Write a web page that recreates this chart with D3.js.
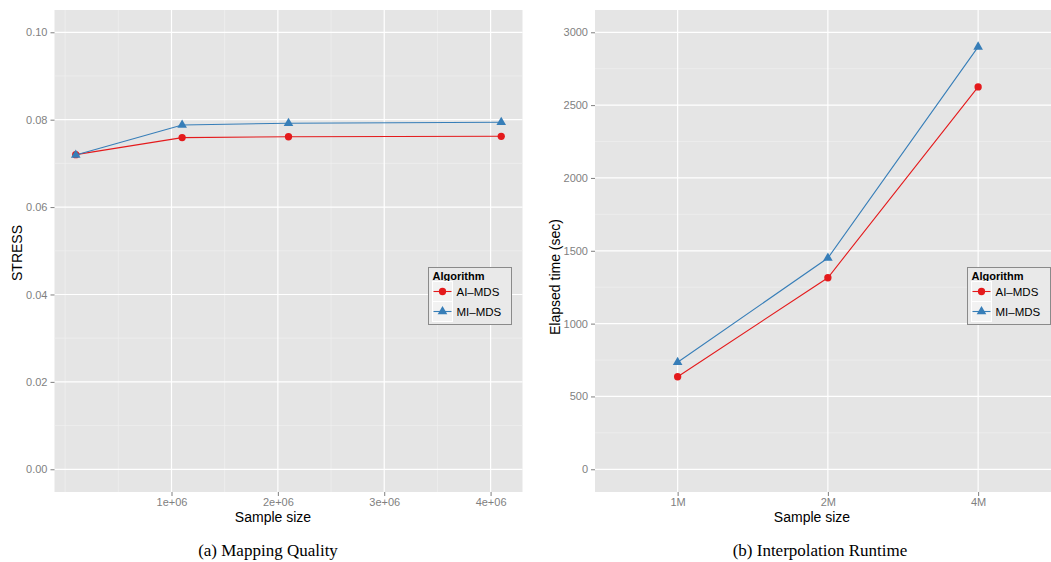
<!doctype html>
<html>
<head>
<style>
  body { margin: 0; background: #fff; }
  svg text { font-family: "Liberation Sans", Arial, sans-serif; }
  .tick-label { fill: #7f7f7f; font-size: 11px; }
  .axis-title { fill: #000; font-size: 14px; }
  .caption { font-size: 17px; fill: #000; }
</style>
<script src="https://d3js.org/d3.v7.min.js"></script>
</head>
<body>
<svg width="1051" height="562"></svg>
<script>
// ----- data -----
var seriesNames = ["AI\u2013MDS", "MI\u2013MDS"];
var seriesColors = ["#e41a1c", "#377eb8"];

var stressSizes = [100000, 1100000, 2100000, 4100000];
var stressAI = [0.0720, 0.0759, 0.0761, 0.0762];
var stressMI = [0.0719, 0.0788, 0.0792, 0.0794];
var stressTicks = [0, 0.02, 0.04, 0.06, 0.08, 0.10];
var sizeTicks = [1e6, 2e6, 3e6, 4e6];
var sizeTickLabels = ["1e+06", "2e+06", "3e+06", "4e+06"];

var runtimeSizes = ["1M", "2M", "4M"];
var runtimeAI = [635, 1315, 2625];
var runtimeMI = [735, 1450, 2900];
var runtimeTicks = [0, 500, 1000, 1500, 2000, 2500, 3000];

var svg = d3.select("svg");

function drawPanel(o) {
  var g = svg.append("g");
  var x = o.x, y = o.y;
  var x0 = x.range()[0], x1 = x.range()[1], y0 = y.range()[0], y1 = y.range()[1];

  g.append("rect").attr("x", x0).attr("y", y1)
    .attr("width", x1 - x0).attr("height", y0 - y1).attr("fill", "#e5e5e5");

  // minor grid
  g.selectAll(".hminor").data(o.yMinor).enter().append("line")
    .attr("x1", x0).attr("x2", x1).attr("y1", d => y(d)).attr("y2", d => y(d))
    .attr("stroke", "#f2f2f2").attr("stroke-width", 0.6);
  g.selectAll(".vminor").data(o.xMinor).enter().append("line")
    .attr("y1", y1).attr("y2", y0).attr("x1", d => x(d)).attr("x2", d => x(d))
    .attr("stroke", "#f2f2f2").attr("stroke-width", 0.6);
  // major grid
  g.selectAll(".hmajor").data(o.yTicks).enter().append("line")
    .attr("x1", x0).attr("x2", x1).attr("y1", d => y(d)).attr("y2", d => y(d))
    .attr("stroke", "#fff").attr("stroke-width", 1.2);
  g.selectAll(".vmajor").data(o.xTicks).enter().append("line")
    .attr("y1", y1).attr("y2", y0).attr("x1", d => x(d)).attr("x2", d => x(d))
    .attr("stroke", "#fff").attr("stroke-width", 1.2);

  // axes
  var ya = g.append("g").attr("transform", "translate(" + x0 + ",0)")
    .call(d3.axisLeft(y).tickValues(o.yTicks).tickSize(4).tickPadding(3).tickFormat(o.yFormat));
  var xa = g.append("g").attr("transform", "translate(0," + y0 + ")")
    .call(d3.axisBottom(x).tickValues(o.xTicks).tickSize(4).tickPadding(2).tickFormat(o.xFormat));
  [ya, xa].forEach(function (a) {
    a.select(".domain").remove();
    a.selectAll(".tick line").attr("stroke", "#7f7f7f");
    a.selectAll(".tick text").attr("class", "tick-label").attr("fill", "#7f7f7f")
      .style("font-size", "11px");
  });

  // series
  o.series.forEach(function (vals, i) {
    var pts = vals.map((v, j) => [x(o.xVals[j]), y(v)]);
    g.append("path").attr("d", d3.line()(pts))
      .attr("fill", "none").attr("stroke", seriesColors[i]).attr("stroke-width", 1.1);
    g.selectAll(".pt" + i).data(pts).enter().append("path")
      .attr("transform", d => "translate(" + d[0] + "," + d[1] + ")")
      .attr("d", d3.symbol().type(i === 0 ? d3.symbolCircle : d3.symbolTriangle).size(i === 0 ? 42 : 40))
      .attr("fill", seriesColors[i]);
  });

  // titles
  svg.append("text").attr("class", "axis-title").attr("x", o.xTitlePos[0]).attr("y", o.xTitlePos[1])
    .attr("text-anchor", "middle").text(o.xTitle);
  svg.append("text").attr("class", "axis-title")
    .attr("transform", "translate(" + o.yTitlePos[0] + "," + o.yTitlePos[1] + ") rotate(-90)")
    .attr("text-anchor", "middle").text(o.yTitle);
  svg.append("text").attr("class", "caption").attr("x", o.captionPos[0]).attr("y", o.captionPos[1])
    .attr("text-anchor", "middle").style("font-family", "'Liberation Serif', 'Times New Roman', serif")
    .text(o.caption);

  // legend
  var lg = svg.append("g").attr("transform", "translate(" + o.legendPos[0] + "," + o.legendPos[1] + ")");
  lg.append("rect").attr("x", 0).attr("y", 0).attr("width", 83).attr("height", 57)
    .attr("fill", "#e9e9e9").attr("stroke", "#8a8a8a").attr("stroke-width", 1);
  lg.append("text").attr("x", 4).attr("y", 12).style("font-size", "11px")
    .style("font-weight", "bold").text("Algorithm");
  seriesNames.forEach(function (name, i) {
    var ky = 14 + i * 20;
    lg.append("rect").attr("x", 4).attr("y", ky).attr("width", 20).attr("height", 20)
      .attr("fill", "#f2f2f2").attr("stroke", "#fff").attr("stroke-width", 1);
    lg.append("line").attr("x1", 5).attr("x2", 23).attr("y1", ky + 10).attr("y2", ky + 10)
      .attr("stroke", seriesColors[i]).attr("stroke-width", 1.1);
    lg.append("path").attr("transform", "translate(14," + (ky + 10) + ")")
      .attr("d", d3.symbol().type(i === 0 ? d3.symbolCircle : d3.symbolTriangle).size(i === 0 ? 42 : 40))
      .attr("fill", seriesColors[i]);
    lg.append("text").attr("x", 28).attr("y", ky + 14).style("font-size", "11.5px").text(name);
  });
}

// (a) mapping quality
drawPanel({
  x: d3.scaleLinear().domain([-0.1e6, 4.3e6]).range([54.5, 522.5]),
  y: d3.scaleLinear().domain([-0.0052, 0.1051]).range([492, 10]),
  xVals: stressSizes,
  series: [stressAI, stressMI],
  xTicks: sizeTicks,
  xMinor: [0, 0.5e6, 1.5e6, 2.5e6, 3.5e6],
  xFormat: (d, i) => sizeTickLabels[i],
  yTicks: stressTicks,
  yMinor: [0.01, 0.03, 0.05, 0.07, 0.09],
  yFormat: d3.format(".2f"),
  xTitle: "Sample size", xTitlePos: [273, 522],
  yTitle: "STRESS", yTitlePos: [22, 253],
  caption: "(a) Mapping Quality", captionPos: [268, 556],
  legendPos: [428.5, 267.5]
});

// (b) interpolation runtime
var idx = runtimeSizes.map((d, i) => i);
drawPanel({
  x: d3.scaleLinear().domain([-0.55, 2.485]).range([595, 1051]),
  y: d3.scaleLinear().domain([-156, 3153]).range([492, 10]),
  xVals: idx,
  series: [runtimeAI, runtimeMI],
  xTicks: idx,
  xMinor: [],
  xFormat: (d, i) => runtimeSizes[i],
  yTicks: runtimeTicks,
  yMinor: [250, 750, 1250, 1750, 2250, 2750],
  yFormat: d3.format("d"),
  xTitle: "Sample size", xTitlePos: [812, 522],
  yTitle: "Elapsed time (sec)", yTitlePos: [560, 277],
  caption: "(b) Interpolation Runtime", captionPos: [820, 556],
  legendPos: [967.5, 267.5]
});
</script>
</body>
</html>
